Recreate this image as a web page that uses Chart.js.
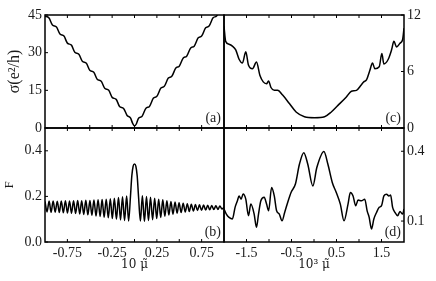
<!DOCTYPE html>
<html>
<head>
<meta charset="utf-8">
<script src="https://cdn.jsdelivr.net/npm/chart.js@4.4.1/dist/chart.umd.min.js"></script>
<style>
  html, body { margin: 0; padding: 0; background: #fff; }
  #wrap { position: relative; width: 436px; height: 281px; }
  #wrap canvas { position: absolute; left: 0; top: 0; }
</style>
</head>
<body>
<div id="wrap">
  <canvas id="chartA" width="436" height="281"></canvas>
  <canvas id="chartB" width="436" height="281"></canvas>
  <canvas id="chartC" width="436" height="281"></canvas>
  <canvas id="chartD" width="436" height="281"></canvas>
</div>
<script>
// (a) conductivity vs 10*mu
const muA = [-1.000,-0.955,-0.917,-0.872,-0.833,-0.788,-0.750,-0.705,-0.667,-0.622,-0.583,-0.538,-0.500,-0.455,-0.417,-0.372,-0.333,-0.288,-0.250,-0.205,-0.167,-0.122,-0.083,-0.045,-0.020,0.000,0.020,0.045,0.083,0.128,0.167,0.212,0.250,0.295,0.333,0.378,0.417,0.462,0.500,0.545,0.583,0.628,0.667,0.712,0.750,0.795,0.833,0.878,0.917,0.962,1.000];
const sigmaA = [44.5,43.8,41.0,40.2,37.4,36.6,33.8,33.0,30.2,29.4,26.6,25.8,23.0,22.2,19.4,18.6,15.8,15.0,12.2,11.4,8.6,7.8,5.0,4.0,1.8,0.8,1.6,3.9,4.6,7.9,8.6,11.9,12.6,15.9,16.6,19.9,20.6,23.9,24.6,27.9,28.6,31.9,32.6,35.9,36.6,39.9,40.6,43.9,44.6,47.9,48.6];

// (b) Fano factor vs 10*mu
const muB = [-1.000,-0.977,-0.954,-0.932,-0.909,-0.886,-0.863,-0.840,-0.818,-0.795,-0.772,-0.749,-0.726,-0.704,-0.681,-0.658,-0.635,-0.612,-0.590,-0.567,-0.544,-0.521,-0.498,-0.476,-0.453,-0.430,-0.407,-0.384,-0.362,-0.339,-0.316,-0.293,-0.270,-0.248,-0.225,-0.202,-0.179,-0.156,-0.134,-0.111,-0.088,-0.066,
  -0.045,-0.030,-0.015,0.000,0.015,0.030,0.045,0.066,
  0.088,0.111,0.134,0.156,0.179,0.202,0.225,0.248,0.270,0.293,0.316,0.339,0.362,0.384,0.407,0.430,0.453,0.476,0.498,0.521,0.544,0.567,0.590,0.612,0.635,0.658,0.681,0.704,0.726,0.749,0.772,0.795,0.818,0.840,0.863,0.886,0.909,0.932,0.954,0.977,1.000];
const fanoB = [0.178,0.132,0.180,0.130,0.180,0.131,0.179,0.129,0.180,0.128,0.181,0.127,0.180,0.126,0.181,0.125,0.182,0.123,0.181,0.121,0.183,0.119,0.182,0.117,0.184,0.114,0.185,0.112,0.186,0.109,0.188,0.106,0.190,0.103,0.192,0.100,0.195,0.097,0.199,0.094,0.202,0.092,
  0.200,0.290,0.333,0.342,0.333,0.290,0.200,0.092,
  0.203,0.090,0.200,0.094,0.196,0.098,0.192,0.103,0.188,0.108,0.185,0.113,0.181,0.118,0.178,0.122,0.175,0.126,0.172,0.129,0.170,0.132,0.168,0.134,0.166,0.136,0.164,0.138,0.163,0.139,0.162,0.140,0.161,0.141,0.160,0.142,0.159,0.143,0.158,0.145,0.152];

// (c) conductivity vs 10^3*mu
const muC = [-2.000,-1.963,-1.888,-1.814,-1.739,-1.665,-1.590,-1.516,-1.457,-1.367,-1.278,-1.203,-1.128,-1.054,-1.010,-0.956,-0.883,-0.809,-0.697,-0.547,-0.398,-0.212,0.011,0.235,0.384,0.532,0.719,0.831,0.943,1.054,1.106,1.166,1.240,1.300,1.352,1.449,1.508,1.553,1.650,1.724,1.776,1.836,1.910,1.970,2.000];
const sigmaC = [10.8,9.2,8.9,8.7,8.3,7.3,6.9,8.1,6.7,6.3,7.0,5.6,4.9,4.7,5.0,4.3,4.0,4.0,3.5,2.6,1.7,1.2,1.1,1.2,1.7,2.4,3.3,3.9,4.0,4.6,4.9,5.1,6.1,6.9,6.3,6.5,7.9,6.8,7.3,8.3,9.2,8.6,9.0,9.4,10.6];

// (d) Fano factor vs 10^3*mu
const muD = [-2.000,-1.948,-1.888,-1.814,-1.754,-1.702,-1.665,-1.620,-1.575,-1.516,-1.456,-1.404,-1.330,-1.278,-1.233,-1.181,-1.106,-1.054,-1.009,-0.942,-0.883,-0.831,-0.771,-0.711,-0.652,-0.585,-0.510,-0.413,-0.324,-0.227,-0.138,-0.026,0.063,0.220,0.309,0.406,0.495,0.585,0.667,0.756,0.808,0.868,0.927,0.980,1.054,1.128,1.181,1.226,1.278,1.330,1.389,1.449,1.501,1.553,1.613,1.665,1.702,1.747,1.799,1.858,1.911,1.970,2.000];
const fanoD = [0.152,0.130,0.116,0.109,0.159,0.187,0.208,0.194,0.216,0.194,0.123,0.173,0.130,0.073,0.130,0.187,0.202,0.173,0.144,0.244,0.208,0.144,0.130,0.101,0.137,0.180,0.223,0.259,0.344,0.394,0.344,0.251,0.330,0.399,0.344,0.266,0.223,0.173,0.101,0.173,0.223,0.208,0.166,0.190,0.187,0.194,0.144,0.116,0.066,0.109,0.137,0.159,0.166,0.208,0.215,0.208,0.212,0.159,0.137,0.123,0.141,0.130,0.152];

// tick values
const sigmaTicksA = [0, 15, 30, 45];
const sigmaTicksC = [0, 6, 12];
const fanoTicksB = [0, 0.2, 0.4];
const fanoTicksD = [0.1, 0.4];
const muTicksLeft = [-0.75, -0.25, 0.25, 0.75];
const muMarksLeft = [-0.75, -0.5, -0.25, 0, 0.25, 0.5, 0.75];
const muTicksRight = [-1.5, -0.5, 0.5, 1.5];
const muMarksRight = [-1.5, -1, -0.5, 0, 0.5, 1, 1.5];
const panelLabels = ['(a)', '(b)', '(c)', '(d)'];

const serif = "'Liberation Serif', 'DejaVu Serif', serif";
Chart.defaults.font.family = serif;
Chart.defaults.color = '#1a1a1a';

function points(xs, ys) {
    return xs.map((x, i) => ({x: x, y: ys[i]}));
}

// frame, inner tick marks and panel letter
const decor = {
    id: 'decor',
    afterDatasetsDraw(chart, args, o) {
        const ctx = chart.ctx;
        const a = chart.chartArea;
        const sx = chart.scales.x, sy = chart.scales.y;
        ctx.save();
        ctx.strokeStyle = '#000';
        ctx.lineWidth = 1;
        o.xMarks.forEach(v => {
            const px = sx.getPixelForValue(v);
            ctx.beginPath();
            ctx.moveTo(px, a.bottom); ctx.lineTo(px, a.bottom - 3);
            ctx.moveTo(px, a.top); ctx.lineTo(px, a.top + 3);
            ctx.stroke();
        });
        o.yMarks.forEach(v => {
            const py = sy.getPixelForValue(v);
            const x0 = o.ySide == 'left' ? a.left : a.right;
            const d = o.ySide == 'left' ? 3 : -3;
            ctx.beginPath(); ctx.moveTo(x0, py); ctx.lineTo(x0 + d, py); ctx.stroke();
        });
        ctx.lineWidth = 1.5;
        ctx.strokeRect(a.left, a.top, a.right - a.left, a.bottom - a.top);
        ctx.font = '14px ' + serif;
        ctx.fillStyle = '#222';
        ctx.textAlign = 'right';
        ctx.textBaseline = 'bottom';
        ctx.fillText(o.label, a.right - 3, a.bottom - 3);
        ctx.restore();
    }
};

function lineSet(xs, ys) {
    return {
        data: points(xs, ys),
        borderColor: '#000',
        borderWidth: 1.5,
        pointRadius: 0,
        fill: false,
        cubicInterpolationMode: 'monotone'
    };
}

function makePanel(id, cfg) {
    const left = cfg.side == 'left';
    const yAxis = {
        position: cfg.side,
        min: cfg.ymin, max: cfg.ymax,
        afterFit: s => { s.width = left ? 45 : 32; },
        afterBuildTicks: s => { s.ticks = cfg.yTicks.map(v => ({value: v})); },
        grid: {display: false, drawTicks: false},
        border: {display: false},
        ticks: {padding: left ? 3 : 3, font: {size: 14}, callback: cfg.yFmt}
    };
    if (cfg.yTitle) {
        yAxis.title = {display: true, text: cfg.yTitle, font: {size: cfg.yTitleSize}, padding: {top: cfg.yTitlePad, bottom: 0}};
    }
    const xAxis = {
        type: 'linear',
        min: cfg.xmin, max: cfg.xmax,
        display: !!cfg.xTitle,
        afterFit: s => { s.height = cfg.xTitle ? 39 : 0; },
        afterBuildTicks: s => { s.ticks = cfg.xTicks.map(v => ({value: v})); },
        grid: {display: false, drawTicks: false},
        border: {display: false},
        ticks: {padding: 3, font: {size: 14}, maxRotation: 0, autoSkip: false, callback: v => String(v)}
    };
    if (cfg.xTitle) {
        xAxis.title = {display: true, text: cfg.xTitle, font: {size: 12, family: "'DejaVu Serif', serif"}, padding: {top: 0, bottom: 9}};
    }
    return new Chart(document.getElementById(id), {
        type: 'line',
        data: {datasets: [lineSet(cfg.xs, cfg.ys)]},
        options: {
            responsive: false,
            animation: false,
            devicePixelRatio: 1,
            layout: {padding: cfg.pad},
            plugins: {
                legend: {display: false},
                tooltip: {enabled: false},
                decor: {label: cfg.label, xMarks: cfg.xMarks, yMarks: cfg.yTicks, ySide: cfg.side}
            },
            scales: {x: xAxis, y: yAxis}
        },
        plugins: [decor]
    });
}

makePanel('chartA', {
    xs: muA, ys: sigmaA, side: 'left', ymin: 0, ymax: 45, yTicks: sigmaTicksA,
    yFmt: v => String(v), yTitle: 'σ(e²/h)', yTitleSize: 16, yTitlePad: 5,
    xmin: -1, xmax: 1, xTicks: muTicksLeft, xMarks: muMarksLeft,
    pad: {left: 0, top: 15, right: 212, bottom: 153}, label: panelLabels[0]
});
makePanel('chartB', {
    xs: muB, ys: fanoB, side: 'left', ymin: 0, ymax: 0.5, yTicks: fanoTicksB,
    yFmt: v => v.toFixed(1), yTitle: 'F', yTitleSize: 13, yTitlePad: 2,
    xmin: -1, xmax: 1, xTicks: muTicksLeft, xMarks: muMarksLeft, xTitle: '10 μ̃',
    pad: {left: 0, top: 128, right: 212, bottom: 0}, label: panelLabels[1]
});
makePanel('chartC', {
    xs: muC, ys: sigmaC, side: 'right', ymin: 0, ymax: 12, yTicks: sigmaTicksC,
    yFmt: v => String(v),
    xmin: -2, xmax: 2, xTicks: muTicksRight, xMarks: muMarksRight,
    pad: {left: 224, top: 15, right: 0, bottom: 153}, label: panelLabels[2]
});
makePanel('chartD', {
    xs: muD, ys: fanoD, side: 'right', ymin: 0.01, ymax: 0.5, yTicks: fanoTicksD,
    yFmt: v => v.toFixed(1),
    xmin: -2, xmax: 2, xTicks: muTicksRight, xMarks: muMarksRight, xTitle: '10³ μ̃',
    pad: {left: 224, top: 128, right: 0, bottom: 0}, label: panelLabels[3]
});
</script>
</body>
</html>
